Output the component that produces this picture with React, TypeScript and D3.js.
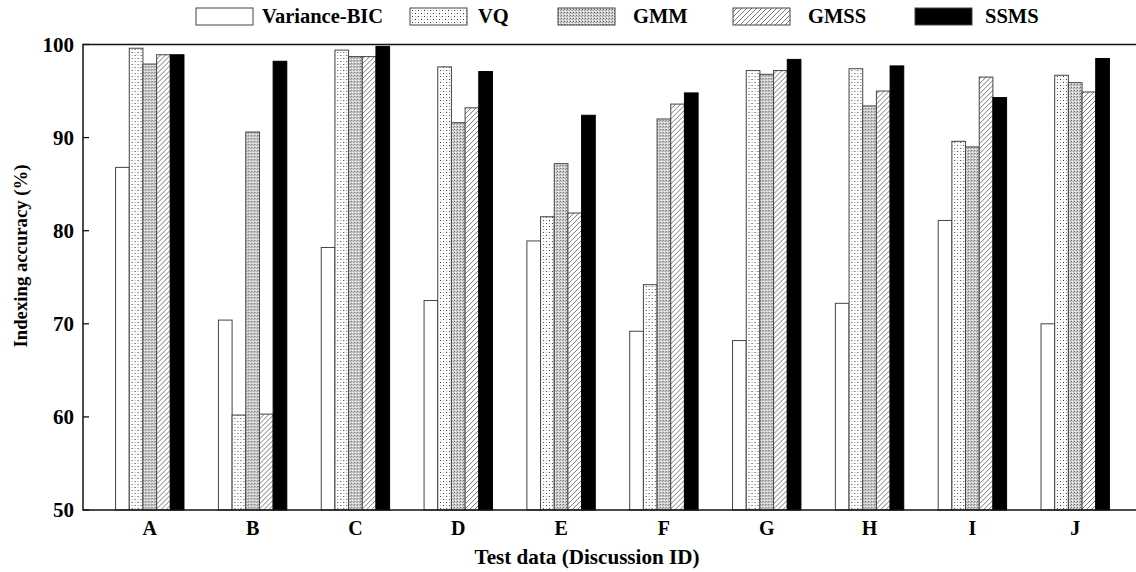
import { scaleBand, scaleLinear } from 'd3';

// categories / series
const discussions = ['A', 'B', 'C', 'D', 'E', 'F', 'G', 'H', 'I', 'J'];
const methods = ['Variance-BIC', 'VQ', 'GMM', 'GMSS', 'SSMS'];

// indexing accuracy (%) per method, one value per discussion
const varianceBic = [86.8, 70.4, 78.2, 72.5, 78.9, 69.2, 68.2, 72.2, 81.1, 70.0];
const vq = [99.6, 60.2, 99.4, 97.6, 81.5, 74.2, 97.2, 97.4, 89.6, 96.7];
const gmm = [97.9, 90.6, 98.7, 91.6, 87.2, 92.0, 96.8, 93.4, 89.0, 95.9];
const gmss = [98.9, 60.3, 98.7, 93.2, 81.9, 93.6, 97.2, 95.0, 96.5, 94.9];
const ssms = [98.9, 98.2, 99.8, 97.1, 92.4, 94.8, 98.4, 97.7, 94.3, 98.5];
const yTicks = [50, 60, 70, 80, 90, 100];

const seriesValues = [varianceBic, vq, gmm, gmss, ssms];
const fills = ['#fff', 'url(#pVQ)', 'url(#pGMM)', 'url(#pGMSS)', '#000'];

const W = 1136, H = 572;
const left = 83, right = 1142, top = 44.5, bottom = 510;
const font = '"Liberation Serif", "Times New Roman", serif';

// legend layout
const legSwatchX = [196, 410, 558, 733, 915];
const legTextX = [262, 478, 633, 808, 985];

export default function App() {
  const x = scaleBand<string>().domain(discussions).range([left, right])
    .paddingInner(0.335).paddingOuter(0.317);
  const xs = scaleBand<string>().domain(methods).range([0, x.bandwidth()]);
  const y = scaleLinear().domain([50, 100]).range([bottom, top]);

  return (
    <svg width={W} height={H} style={{ position: 'absolute', left: 0, top: 0, background: '#fff' }}
      fontFamily={font} fontWeight="bold">
      <defs>
        <pattern id="pVQ" width="6" height="6" patternUnits="userSpaceOnUse">
          <rect width="6" height="6" fill="#fff" />
          <rect x="1" y="1" width="1" height="1" fill="#333" />
          <rect x="4" y="4" width="1" height="1" fill="#333" />
          <rect x="4" y="1" width="1" height="1" fill="#aaa" />
          <rect x="1" y="4" width="1" height="1" fill="#aaa" />
        </pattern>
        <pattern id="pGMM" width="3" height="3" patternUnits="userSpaceOnUse">
          <rect width="3" height="3" fill="#cfcfcf" />
          <rect x="0" y="0" width="1" height="1" fill="#666" />
          <rect x="2" y="1" width="1" height="1" fill="#999" />
          <rect x="1" y="2" width="1" height="1" fill="#fff" />
        </pattern>
        <pattern id="pGMSS" width="5" height="5" patternUnits="userSpaceOnUse">
          <rect width="5" height="5" fill="#fff" />
          <path d="M-1,6 L6,-1 M-1,1 L1,-1 M4,6 L6,4" stroke="#555" strokeWidth="0.8" />
        </pattern>
      </defs>

      {/* bars */}
      {discussions.map((d, i) => (
        <g key={d} transform={`translate(${x(d)},0)`}>
          {methods.map((m, k) => (
            <rect key={m} x={xs(m)} y={y(seriesValues[k][i])} width={xs.bandwidth()}
              height={bottom - y(seriesValues[k][i])} fill={fills[k]}
              stroke={k === 4 ? '#000' : '#444'} strokeWidth={1} />
          ))}
        </g>
      ))}

      {/* frame */}
      <rect x={left} y={top} width={right - left} height={bottom - top} fill="none" stroke="#111" strokeWidth={1.5} />
      {yTicks.map(t => (
        <g key={t}>
          <line x1={left} x2={left + 6} y1={y(t)} y2={y(t)} stroke="#111" strokeWidth={1.3} />
          <line x1={right - 6} x2={right} y1={y(t)} y2={y(t)} stroke="#111" strokeWidth={1.3} />
          <text x={left - 9} y={y(t)} dy="0.35em" textAnchor="end" fontSize={21}>{t}</text>
        </g>
      ))}
      {discussions.map(d => (
        <text key={d} x={(x(d) ?? 0) + x.bandwidth() / 2} y={535} textAnchor="middle" fontSize={20}>{d}</text>
      ))}
      <text x={587} y={564} textAnchor="middle" fontSize={20} textLength={225} lengthAdjust="spacingAndGlyphs">
        Test data (Discussion ID)
      </text>
      <text transform={`translate(27,256) rotate(-90)`} textAnchor="middle" fontSize={19}
        textLength={183} lengthAdjust="spacingAndGlyphs">
        Indexing accuracy (%)
      </text>

      {/* legend */}
      {methods.map((m, k) => (
        <g key={m}>
          <rect x={legSwatchX[k]} y={8} width={57} height={17} fill={fills[k]} stroke="#444" strokeWidth={1} />
          <text x={legTextX[k]} y={23} fontSize={20.5}>{m}</text>
        </g>
      ))}
    </svg>
  );
}
